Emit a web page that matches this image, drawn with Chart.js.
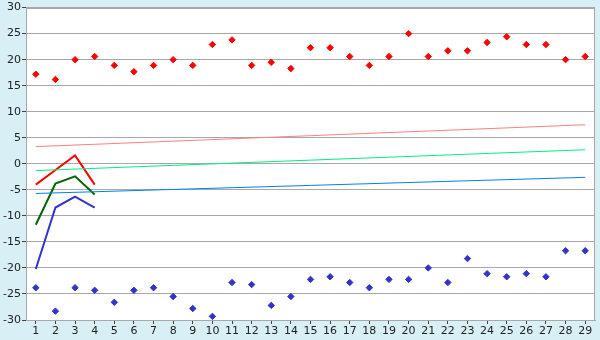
<!DOCTYPE html>
<html>
<head>
<meta charset="utf-8">
<script src="https://cdn.jsdelivr.net/npm/chart.js@4"></script>
<style>
  html, body { margin: 0; padding: 0; background: #d9eff6; }
  #wrap { width: 600px; height: 340px; }
</style>
</head>
<body>
<div id="wrap"><canvas id="chart"></canvas></div>
<script>
// categories 1..29
const days = ['1','2','3','4','5','6','7','8','9','10','11','12','13','14','15',
  '16','17','18','19','20','21','22','23','24','25','26','27','28','29'];

// scattered highs and lows
const highs = [17.2, 16.2, 20.0, 20.6, 18.9, 17.7, 18.9, 20.0, 18.9, 22.9,
  23.8, 18.9, 19.5, 18.3, 22.3, 22.3, 20.6, 18.9, 20.6, 25.0,
  20.6, 21.7, 21.7, 23.3, 24.4, 22.9, 22.9, 20.0, 20.6];
const lows = [-23.8, -28.3, -23.8, -24.3, -26.6, -24.3, -23.8, -25.5, -27.8, -29.3,
  -22.8, -23.2, -27.2, -25.5, -22.2, -21.7, -22.8, -23.8, -22.2, -22.2,
  -20.0, -22.8, -18.2, -21.1, -21.7, -21.1, -21.7, -16.7, -16.7];

// short lines over the first four days
const shortRed = [-4.0, -1.2, 1.6, -4.0];
const shortGreen = [-11.7, -3.8, -2.4, -5.9];
const shortBlue = [-20.2, -8.4, -6.3, -8.4];

// trend lines: start and end values (day 1, day 29)
const trendRed = [3.3, 7.5];
const trendGreen = [-1.3, 2.7];
const trendBlue = [-5.7, -2.6];

const yTicks = { min: -30, max: 30, step: 5 };

function ends(vals) {
  return [{ x: days[0], y: vals[0] }, { x: days[days.length - 1], y: vals[1] }];
}

const plotBg = {
  id: 'plotBg',
  beforeDraw(chart) {
    const { ctx, chartArea: a } = chart;
    ctx.save();
    ctx.fillStyle = '#ffffff';
    ctx.fillRect(a.left, a.top, a.right - a.left, a.bottom - a.top);
    ctx.restore();
  },
  afterDraw(chart) {
    const { ctx, chartArea: a } = chart;
    ctx.save();
    ctx.strokeStyle = '#a8a8a8';
    ctx.lineWidth = 1;
    ctx.strokeRect(Math.round(a.left) + 0.5, Math.round(a.top) + 0.5,
      Math.round(a.right - a.left) - 1, Math.round(a.bottom - a.top));
    ctx.restore();
  }
};

const pt = (color) => ({
  type: 'line', showLine: false, pointStyle: 'rectRot', pointRadius: 3.2,
  pointBackgroundColor: color, pointBorderColor: color, borderColor: color
});
const ln = (color, w) => ({
  type: 'line', borderColor: color, borderWidth: w, pointRadius: 0, fill: false
});

new Chart(document.getElementById('chart'), {
  type: 'line',
  data: {
    labels: days,
    datasets: [
      { ...ln('#ff8080', 1), data: ends(trendRed) },
      { ...ln('#00f080', 1), data: ends(trendGreen) },
      { ...ln('#0080ff', 1), data: ends(trendBlue) },
      { ...ln('#ff0000', 2), data: shortRed },
      { ...ln('#006600', 2), data: shortGreen },
      { ...ln('#3333cc', 2), data: shortBlue },
      { ...pt('#ff0000'), data: highs },
      { ...pt('#3333cc'), data: lows }
    ]
  },
  options: {
    responsive: true,
    maintainAspectRatio: false,
    animation: false,
    layout: { padding: { top: 5, right: 5, left: 0, bottom: 0 } },
    plugins: { legend: { display: false }, tooltip: { enabled: false } },
    scales: {
      x: {
        offset: true,
        grid: { offset: false, drawOnChartArea: false, tickLength: 4, tickColor: '#404040' },
        border: { color: '#a8a8a8' },
        ticks: { color: '#222', font: { family: 'DejaVu Sans', size: 11 }, padding: 1,
          maxRotation: 0, autoSkip: false },
        afterFit(s) { s.height = 20; }
      },
      y: {
        min: yTicks.min, max: yTicks.max,
        grid: { color: '#a8a8a8', tickLength: 4, tickColor: '#404040' },
        border: { color: '#a8a8a8' },
        ticks: { stepSize: yTicks.step, color: '#222', font: { family: 'DejaVu Sans', size: 11 }, padding: 1 },
        afterFit(s) { s.width = 26; }
      }
    }
  },
  plugins: [plotBg]
});
</script>
</body>
</html>
